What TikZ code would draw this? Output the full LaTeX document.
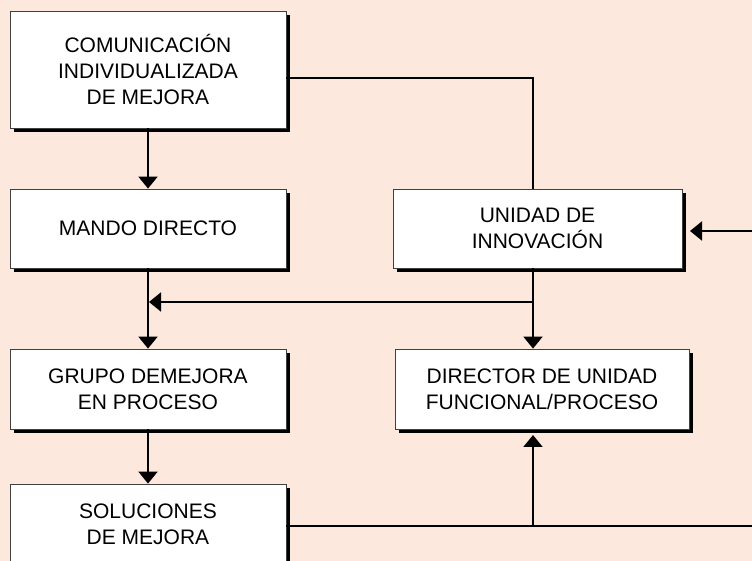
\documentclass[tikz,border=0pt]{standalone}
\usepackage{fontspec}
\setmainfont{Liberation Sans}
\usetikzlibrary{shadows,arrows.meta}
\definecolor{bg}{RGB}{252,232,220}
\begin{document}
\begin{tikzpicture}[x=1pt,y=1pt,
 box/.style={draw=black!75, line width=0.8pt, fill=white, inner sep=0pt, align=center,
   font=\fontsize{21}{26}\selectfont,
   drop shadow={shadow xshift=4pt, shadow yshift=-4pt, fill=black, opacity=1}},
 conn/.style={line width=2pt},
 arr/.style={conn, -{Triangle[width=19pt,length=12pt]}}]
\useasboundingbox (0,0) rectangle (752,561);
\clip (0,0) rectangle (752,561);
\fill[bg] (0,0) rectangle (752,561);
\node[box, minimum width=276pt, minimum height=117pt] (A) at (148,491.5) {COMUNICACIÓN\\INDIVIDUALIZADA\\DE MEJORA};
\node[box, minimum width=276pt, minimum height=79pt] (B) at (148,332.5) {MANDO DIRECTO};
\node[box, minimum width=276pt, minimum height=80pt] (C) at (148,172) {GRUPO DEMEJORA\\EN PROCESO};
\node[box, minimum width=276pt, minimum height=81pt] (D) at (148,36.5) {SOLUCIONES\\DE MEJORA};
\node[box, minimum width=289pt, minimum height=79pt] (E) at (537.5,332.5) {UNIDAD DE\\INNOVACIÓN};
\node[box, minimum width=294pt, minimum height=80pt] (F) at (542,172) {DIRECTOR DE UNIDAD\\FUNCIONAL/PROCESO};
\coordinate (k) at (533,483);
\coordinate (j) at (533,259);
\coordinate (m) at (149,259);
\coordinate (r) at (752,330);
\coordinate (rt) at (690,330);
\coordinate (b) at (752,35);
\coordinate (bj) at (533,35);
\coordinate (bt) at (533,126);
\draw[conn] (A.east |- k) -- (k) -- (k |- E.north);
\draw[arr] (k |- E.south) -- (k |- F.north);
\draw[arr] (j) -- (m);
\draw[arr] (A.south) -- (B.north);
\draw[arr] (B.south) -- (C.north);
\draw[arr] (C.south) -- (D.north);
\draw[arr] (r) -- (rt);
\draw[conn] (D.east |- b) -- (b);
\draw[arr] (bj) -- (bt);
\end{tikzpicture}
\end{document}
